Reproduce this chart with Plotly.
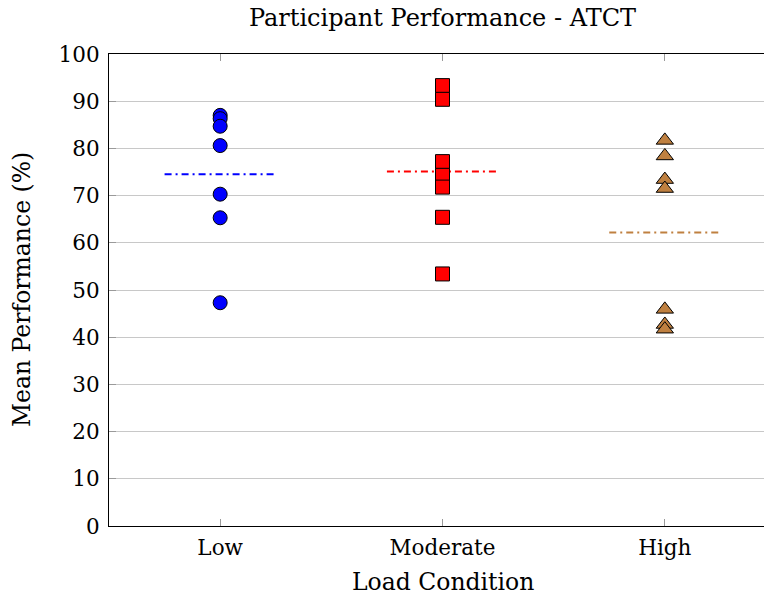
import numpy as np
import plotly.graph_objects as go

categories = ["Low", "Moderate", "High"]
low_vals = [87.0, 86.3, 84.7, 80.6, 70.3, 65.3, 47.3]
moderate_vals = [93.3, 90.4, 77.2, 74.3, 71.8, 65.4, 53.4]
high_vals = [81.7, 78.4, 73.4, 71.5, 45.9, 42.7, 41.7]
y_ticks = [0, 10, 20, 30, 40, 50, 60, 70, 80, 90, 100]

series = [
    (low_vals, "#0000ff", "circle", 14),
    (moderate_vals, "#ff0000", "square", 14),
    (high_vals, "#bf8040", "triangle-up", 15),
]

FONT = "DejaVu Serif"
TICK_SIZE = 21.5
LABEL_SIZE = 23.5
fig = go.Figure()

# mean lines (behind markers)
for i, (vals, color, sym, size) in enumerate(series):
    xc = i + 1
    m = float(np.mean(vals))
    fig.add_trace(go.Scatter(
        x=[xc - 0.25, xc + 0.25], y=[m, m], mode="lines",
        line=dict(color=color, width=2, dash="7px,4px,2px,4px"),
        showlegend=False, hoverinfo="skip"))

for i, (vals, color, sym, size) in enumerate(series):
    xc = i + 1
    fig.add_trace(go.Scatter(
        x=[xc] * len(vals), y=vals, mode="markers",
        marker=dict(symbol=sym, size=size, color=color,
                    line=dict(color="black", width=1)),
        showlegend=False, name=categories[i]))

fig.update_layout(
    width=764, height=598,
    margin=dict(l=109, r=0, t=54, b=72),
    paper_bgcolor="white", plot_bgcolor="white",
    font=dict(family=FONT, color="black"),
    title=dict(text="Participant Performance - ATCT",
               font=dict(family=FONT, size=LABEL_SIZE + 0.5, color="black"),
               xref="container", x=442.5 / 764, xanchor="center",
               yref="container", y=1 - 18 / 598, yanchor="middle"),
    annotations=[
        dict(text="Load Condition", xref="paper", yref="paper",
             x=(442.5 - 109) / 655, y=-56 / 472, xanchor="center", yanchor="middle",
             showarrow=False, font=dict(family=FONT, size=LABEL_SIZE, color="black")),
        dict(text="Mean Performance (%)", xref="paper", yref="paper",
             x=-87 / 655, y=0.5, xanchor="center", yanchor="middle", textangle=-90,
             showarrow=False, font=dict(family=FONT, size=LABEL_SIZE, color="black")),
    ],
)
fig.update_xaxes(
    range=[0.5, 3.446], tickvals=[1, 2, 3], ticktext=categories,
    showline=True, linecolor="black", linewidth=1.2, mirror="ticks",
    ticks="inside", ticklen=7, tickcolor="#9a9a9a", tickwidth=1,
    showgrid=False, zeroline=False,
    tickfont=dict(family=FONT, size=TICK_SIZE, color="black"),
    ticklabelstandoff=2,
)
fig.update_yaxes(
    range=[0, 100], tickvals=y_ticks,
    showline=True, linecolor="black", linewidth=1.2, mirror=False,
    ticks="inside", ticklen=7, tickcolor="#9a9a9a", tickwidth=1,
    showgrid=True, gridcolor="#c8c8c8", gridwidth=1, zeroline=False,
    tickfont=dict(family=FONT, size=TICK_SIZE, color="black"),
    ticklabelstandoff=4,
)

fig.write_html("out.html")
